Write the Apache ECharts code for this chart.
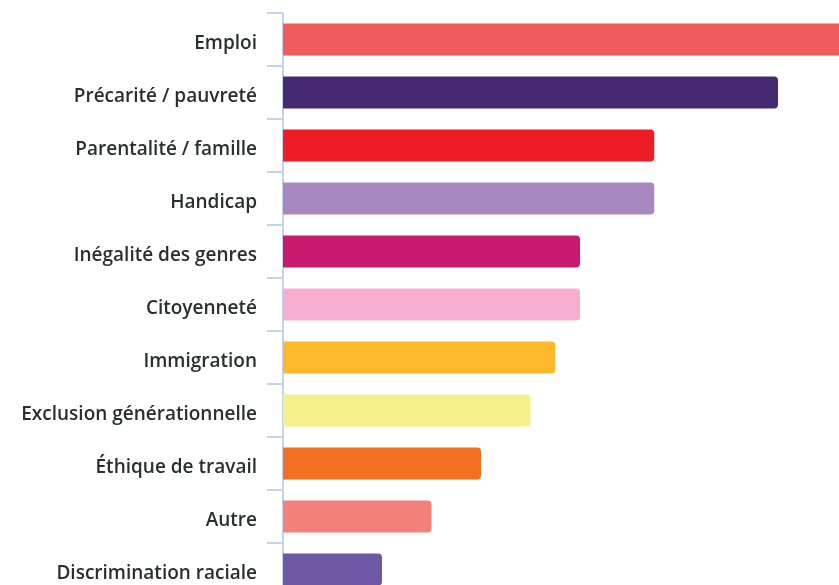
<!DOCTYPE html>
<html>
<head>
<meta charset="utf-8">
<script src="https://cdn.jsdelivr.net/npm/echarts@6/dist/echarts.min.js"></script>
<style>
html,body{margin:0;padding:0;background:#fff;}
#chart{width:839px;height:585px;}
</style>
</head>
<body>
<div id="chart"></div>
<script>
const categories = ["Emploi","Précarité / pauvreté","Parentalité / famille","Handicap","Inégalité des genres","Citoyenneté","Immigration","Exclusion générationnelle","Éthique de travail","Autre","Discrimination raciale"];
const values = [25, 20, 15, 15, 12, 12, 11, 10, 8, 6, 4];
const colors = ["#F05B5C","#452A72","#EE1C25","#A888C0","#C81A6E","#F5AECF","#FDB92B","#F5F089","#F37022","#F2807B","#6E58A5"];

const chart = echarts.init(document.getElementById('chart'));
chart.setOption({
  animation: false,
  grid: { left: 283, top: 13, width: 618.75, height: 583, containLabel: false, outerBoundsMode: 'none' },
  xAxis: { type: 'value', min: 0, max: 25, show: false, splitLine: { show: false } },
  yAxis: {
    type: 'category', inverse: true, data: categories,
    axisLine: { show: true, lineStyle: { color: '#C6D3EC', width: 2 } },
    axisTick: { show: true, length: 16, lineStyle: { color: '#C6D3EC', width: 2 } },
    axisLabel: { margin: 26, fontSize: 19, fontFamily: 'Open Sans', fontWeight: 600, color: '#2B2D30', verticalAlign: 'top', lineHeight: 8 }
  },
  series: [{
    type: 'bar', barWidth: 32,
    data: values.map((v, i) => ({ value: v, itemStyle: { color: colors[i] } })),
    itemStyle: { borderRadius: [0, 4, 4, 0] }
  }]
});
</script>
</body>
</html>
